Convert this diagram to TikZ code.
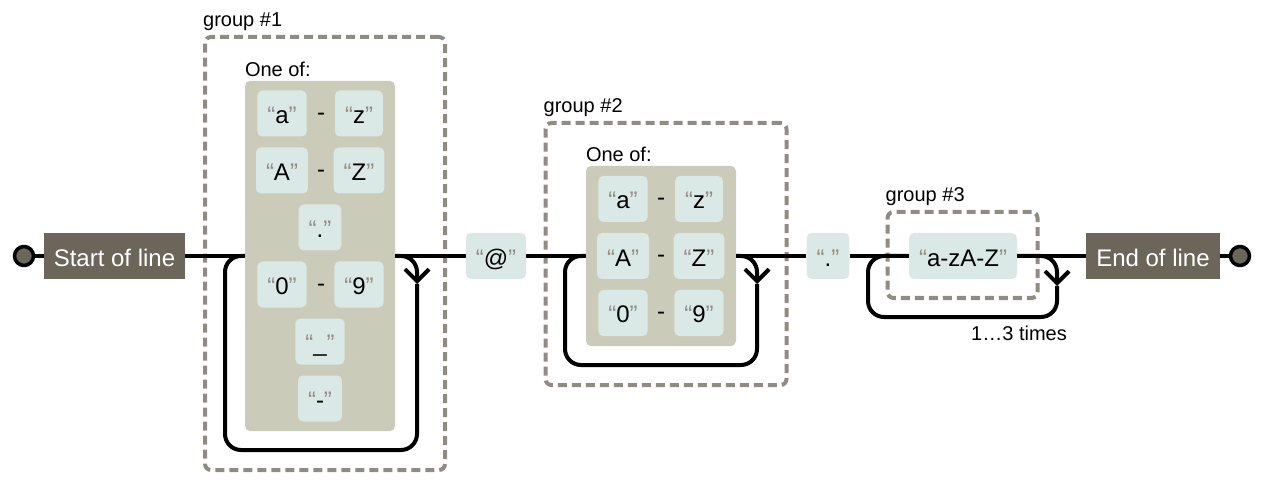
\documentclass[tikz,border=0pt]{standalone}
\usepackage{fontspec}
\setmainfont{Liberation Sans}
\usetikzlibrary{arrows.meta,positioning,calc}
\definecolor{ancfill}{HTML}{6B6659}
\definecolor{litfill}{HTML}{DAE9E5}
\definecolor{setfill}{HTML}{CBCBBA}
\definecolor{grpc}{HTML}{908C83}
\newcommand{\litfont}{\fontsize{24}{28}\selectfont}
\newcommand{\labfont}{\fontsize{20}{24}\selectfont}
\newcommand{\qlit}[1]{{\color{grpc}“}#1{\color{grpc}”}}
\tikzset{
  >={Straight Barb[length=12pt,width=24pt]},
  wire/.style={draw=black,line width=4pt,rounded corners=16pt},
  ancbox/.style={fill=ancfill,text=white,font=\litfont,inner xsep=10pt,minimum height=46pt,text height=24pt,text depth=4pt},
  litbox/.style={fill=litfill,rounded corners=5pt,font=\litfont,inner xsep=10pt,minimum height=46pt,text height=24pt,text depth=4pt},
  setbox/.style={fill=setfill,rounded corners=5pt,minimum width=150pt,inner sep=0pt},
  grp/.style={draw=grpc,line width=4pt,dash pattern=on 9pt off 5pt,rounded corners=6pt,inner sep=0pt},
  lab/.style={font=\labfont,anchor=base west,inner sep=0pt},
  rng/.style={font=\litfont,inner sep=0pt,yshift=-3pt},
  endpt/.style={circle,draw=black,fill=ancfill,line width=3.5pt,minimum size=19pt,inner sep=0pt},
}
\begin{document}
\begin{tikzpicture}[x=1pt,y=-1pt]
\useasboundingbox (0,0) rectangle (1267,497);
\node[endpt] (s0) at (24,256) {};
\node[ancbox] (s) at (114.5,256) {Start of line};
\node[grp,minimum width=240pt,minimum height=433pt] (g1) at (325,253.5) {};
\node[lab] at ([yshift=8pt]g1.north west) {group \#1};
\node[setbox,minimum height=350pt] (c1) at (320,256) {};
\node[lab] at ([yshift=4pt]c1.north west) {One of:};
\node[litbox] (c1a) at (282,113.5) {\qlit{a}};
\node[rng] at (321,113.5) {-};
\node[litbox] (c1b) at (359,113.5) {\qlit{z}};
\node[litbox] (c1c) at (282,170.5) {\qlit{A}};
\node[rng] at (321,170.5) {-};
\node[litbox] (c1d) at (359,170.5) {\qlit{Z}};
\node[litbox] (c1e) at (320,227.5) {\qlit{.}};
\node[litbox] (c1f) at (282,284.5) {\qlit{0}};
\node[rng] at (321,284.5) {-};
\node[litbox] (c1g) at (359,284.5) {\qlit{9}};
\node[litbox] (c1h) at (320,341.5) {\qlit{\_}};
\node[litbox] (c1i) at (320,398.5) {\qlit{-}};
\node[litbox] (at) at (496,256) {\qlit{@}};
\node[grp,minimum width=241pt,minimum height=262pt] (g2) at (666,254) {};
\node[lab] at ([yshift=8pt]g2.north west) {group \#2};
\node[setbox,minimum height=180pt] (c2) at (661,256) {};
\node[lab] at ([yshift=4pt]c2.north west) {One of:};
\node[litbox] (c2a) at (623,199) {\qlit{a}};
\node[rng] at (661,199) {-};
\node[litbox] (c2b) at (699,199) {\qlit{z}};
\node[litbox] (c2c) at (623,256) {\qlit{A}};
\node[rng] at (661,256) {-};
\node[litbox] (c2d) at (699,256) {\qlit{Z}};
\node[litbox] (c2e) at (623,313) {\qlit{0}};
\node[rng] at (661,313) {-};
\node[litbox] (c2f) at (699,313) {\qlit{9}};
\node[litbox] (d) at (828,256) {\qlit{.}};
\node[grp,minimum width=150pt,minimum height=86pt] (g3) at (962.5,255) {};
\node[lab] at ([yshift=8pt]g3.north west) {group \#3};
\node[litbox] (w) at (963,256) {\qlit{a-zA-Z}};
\node[lab,anchor=base east] (n3) at (1067,340) {1…3 times};
\node[ancbox] (e) at (1153,256) {End of line};
\node[endpt] (e0) at (1240,256) {};
\coordinate (a1) at (417,284); \coordinate (b1) at (225,450);
\coordinate (a2) at (757,284); \coordinate (b2) at (565,365);
\coordinate (a3) at (1057,286); \coordinate (b3) at (868,317);
\draw[wire] (s0) -- (s);
\draw[wire] (s) -- (c1);
\draw[wire] (c1) -- (at);
\draw[wire] (at) -- (c2);
\draw[wire] (c2) -- (d);
\draw[wire] (d) -- (w);
\draw[wire] (w) -- (e);
\draw[wire] (e) -- (e0);
\draw[wire,->] (c1.east) -| (a1);
\draw[wire] (a1) |- (b1) |- (c1.west);
\draw[wire,->] (c2.east) -| (a2);
\draw[wire] (a2) |- (b2) |- (c2.west);
\draw[wire,->] (w.east) -| (a3);
\draw[wire] (a3) |- (b3) |- (w.west);
\end{tikzpicture}
\end{document}
